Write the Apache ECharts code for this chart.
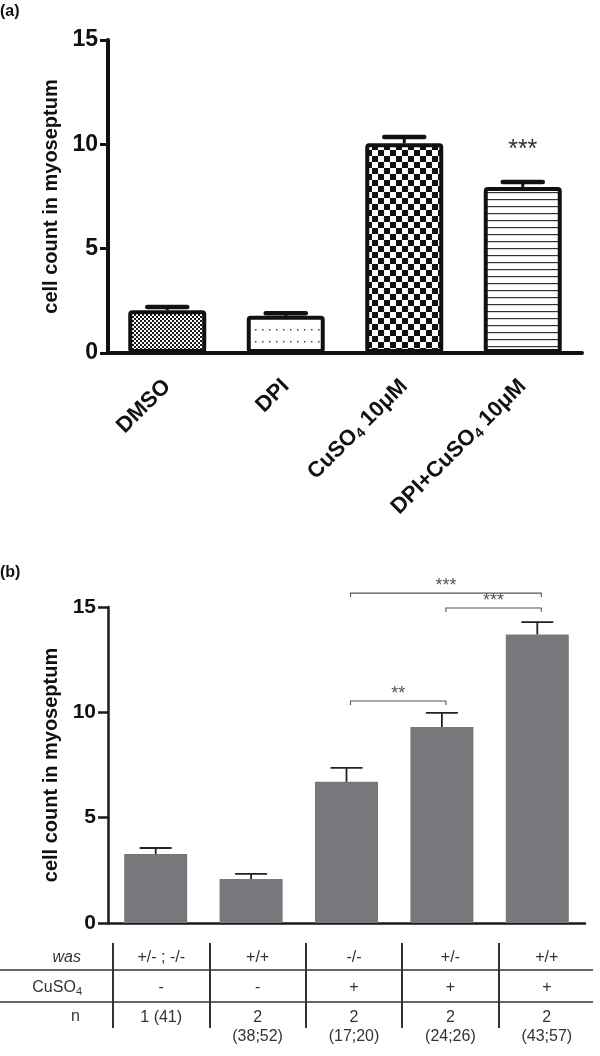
<!DOCTYPE html>
<html><head><meta charset="utf-8">
<script src="https://cdn.jsdelivr.net/npm/echarts@6/dist/echarts.min.js"></script>
<style>html,body{margin:0;padding:0;background:#fff}#c{width:600px;height:1056px}</style>
</head><body><div id="c"></div>
<script>
// ---------- data: panel (a) ----------
const catsA = ['DMSO', 'DPI', 'CuSO4 10μM', 'DPI+CuSO4 10μM'];
const valuesA = [2.05, 1.78, 10.05, 7.95];
const errTopA = [2.2, 1.9, 10.35, 8.2];
const sigA = ['', '', '', '***'];
const yTicksA = [0, 5, 10, 15];

// ---------- data: panel (b) ----------
const catsB = ['g1', 'g2', 'g3', 'g4', 'g5'];
const valuesB = [3.27, 2.09, 6.7, 9.3, 13.7];
const errTopB = [3.56, 2.33, 7.36, 9.97, 14.28];
const yTicksB = [0, 5, 10, 15];
const bracketFrom = [2, 3, 2];
const bracketTo = [4, 4, 3];
const bracketY = [15.66, 14.95, 10.54];
const bracketText = ['***', '***', '**'];

// ---------- table under panel (b) ----------
const tableRowLabels = ['was', 'CuSO4', 'n'];
const tableWas = ['+/- ; -/-', '+/+', '-/-', '+/-', '+/+'];
const tableCu = ['-', '-', '+', '+', '+'];
const tableN = ['1 (41)', '2\n(38;52)', '2\n(17;20)', '2\n(24;26)', '2\n(43;57)'];

const FONT = 'Liberation Sans';

function pat(w, h, draw) {
  const c = document.createElement('canvas'); c.width = w; c.height = h;
  const g = c.getContext('2d'); g.fillStyle = '#fff'; g.fillRect(0, 0, w, h); draw(g);
  return { image: c, repeat: 'repeat' };
}
const patterns = [
  pat(4, 4, g => { g.fillStyle = '#1a1a1a'; g.fillRect(0, 0, 2, 2); g.fillRect(2, 2, 2, 2); }),
  pat(7, 12, g => { g.fillStyle = '#444'; g.fillRect(3, 5, 1.5, 1.5); }),
  pat(12, 12, g => { g.fillStyle = '#111'; g.fillRect(0, 0, 6, 6); g.fillRect(6, 6, 6, 6); }),
  pat(4, 7, g => { g.fillStyle = '#333'; g.fillRect(0, 3, 4, 1.2); })
];

function subFmt(s, main, sub) {
  const parts = s.split('CuSO4');
  let out = '';
  parts.forEach((p, i) => {
    if (i > 0) out += '{' + main + '|CuSO}{' + sub + '|4}';
    if (p) out += '{' + main + '|' + p + '}';
  });
  return out;
}

const chart = echarts.init(document.getElementById('c'), null, { renderer: 'canvas' });

const option = {
  animation: false,
  backgroundColor: '#fff',
  textStyle: { fontFamily: FONT },
  grid: [
    { left: 108, right: 18, top: 40, bottom: 703, show: false },
    { left: 108, right: 15, top: 607, bottom: 133, show: false },
    { left: 113, right: 5, top: 943, bottom: 28, show: false }
  ],
  xAxis: [
    {
      gridIndex: 0, type: 'category', data: catsA,
      axisLine: { lineStyle: { color: '#111', width: 4 } },
      axisTick: { alignWithLabel: true, length: 9, lineStyle: { color: '#111', width: 3 } },
      axisLabel: {
        rotate: 45, margin: 30, interval: 0,
        formatter: v => subFmt(v, 'b', 's'),
        rich: {
          b: { fontFamily: FONT, fontWeight: 'bold', fontSize: 22, color: '#111', lineHeight: 24 },
          s: { fontFamily: FONT, fontWeight: 'bold', fontSize: 14, color: '#111', lineHeight: 14, verticalAlign: 'bottom' }
        }
      }
    },
    {
      gridIndex: 1, type: 'category', data: catsB,
      axisLine: { lineStyle: { color: '#1a1a1a', width: 2.5 } },
      axisTick: { show: false }, axisLabel: { show: false }
    },
    {
      gridIndex: 2, type: 'category', data: catsB,
      axisLine: { show: false }, axisTick: { show: false }, axisLabel: { show: false },
      splitLine: { show: true, showMinLine: true, showMaxLine: false, lineStyle: { color: '#333', width: 2 } }
    }
  ],
  yAxis: [
    {
      gridIndex: 0, type: 'value', min: yTicksA[0], max: yTicksA[yTicksA.length - 1], interval: yTicksA[1] - yTicksA[0],
      name: 'cell count in myoseptum', nameLocation: 'middle', nameGap: 41,
      nameTextStyle: { fontFamily: FONT, fontWeight: 'bold', fontSize: 20, color: '#111' },
      axisLine: { show: true, lineStyle: { color: '#111', width: 4 } },
      axisTick: { show: true, length: 8, lineStyle: { color: '#111', width: 3 } },
      axisLabel: { margin: 10, fontFamily: FONT, fontWeight: 'bold', fontSize: 23, color: '#111' },
      splitLine: { show: false }
    },
    {
      gridIndex: 1, type: 'value', min: yTicksB[0], max: yTicksB[yTicksB.length - 1], interval: yTicksB[1] - yTicksB[0],
      name: 'cell count in myoseptum', nameLocation: 'middle', nameGap: 45,
      nameTextStyle: { fontFamily: FONT, fontWeight: 'bold', fontSize: 20, color: '#111' },
      axisLine: { show: true, lineStyle: { color: '#1a1a1a', width: 2.5 } },
      axisTick: { show: true, length: 10, lineStyle: { color: '#1a1a1a', width: 2.5 } },
      axisLabel: { margin: 12, fontFamily: FONT, fontWeight: 'bold', fontSize: 21, color: '#111' },
      splitLine: { show: false }
    },
    { gridIndex: 2, type: 'value', min: 0, max: 1, show: false, splitLine: { show: false } }
  ],
  series: [
    {
      type: 'bar', xAxisIndex: 0, yAxisIndex: 0, barWidth: 78, z: 2,
      data: valuesA.map((v, i) => ({ value: v, itemStyle: { color: patterns[i] } })),
      itemStyle: { borderColor: '#111', borderWidth: 4, borderRadius: 2 }
    },
    {
      type: 'custom', xAxisIndex: 0, yAxisIndex: 0, z: 3,
      encode: { x: 0, y: [1, 2] },
      data: valuesA.map((v, i) => [i, v, errTopA[i]]),
      renderItem: (p, api) => {
        const b = api.coord([api.value(0), api.value(1)]);
        const t = api.coord([api.value(0), api.value(2)]);
        const ch = [
          { type: 'line', shape: { x1: b[0], y1: b[1], x2: t[0], y2: t[1] }, style: { stroke: '#111', lineWidth: 3 } },
          { type: 'line', shape: { x1: t[0] - 20, y1: t[1], x2: t[0] + 20, y2: t[1] }, style: { stroke: '#111', lineWidth: 4.5, lineCap: 'round' } }
        ];
        const s = sigA[p.dataIndex];
        if (s) ch.push({ type: 'text', style: { x: t[0], y: t[1] - 32, text: s, fontFamily: FONT, fontSize: 25, fill: '#333', align: 'center', verticalAlign: 'middle' } });
        return { type: 'group', children: ch };
      }
    },
    {
      type: 'bar', xAxisIndex: 1, yAxisIndex: 1, barWidth: 63, z: 2,
      data: valuesB, itemStyle: { color: '#77787c' }
    },
    {
      type: 'custom', xAxisIndex: 1, yAxisIndex: 1, z: 3,
      encode: { x: 0, y: [1, 2] },
      data: valuesB.map((v, i) => [i, v, errTopB[i]]),
      renderItem: (p, api) => {
        const b = api.coord([api.value(0), api.value(1)]);
        const t = api.coord([api.value(0), api.value(2)]);
        return { type: 'group', children: [
          { type: 'line', shape: { x1: b[0], y1: b[1], x2: t[0], y2: t[1] }, style: { stroke: '#222', lineWidth: 1.8 } },
          { type: 'line', shape: { x1: t[0] - 16, y1: t[1], x2: t[0] + 16, y2: t[1] }, style: { stroke: '#222', lineWidth: 1.8 } }
        ] };
      }
    },
    {
      type: 'custom', xAxisIndex: 1, yAxisIndex: 1, z: 3, clip: false,
      encode: { x: [0, 1], y: 2 },
      data: bracketFrom.map((f, i) => [f, bracketTo[i], bracketY[i]]),
      renderItem: (p, api) => {
        const a = api.coord([api.value(0), api.value(2)]);
        const b = api.coord([api.value(1), api.value(2)]);
        const x1 = a[0] + 4, x2 = b[0] + 4, y = a[1];
        return { type: 'group', children: [
          { type: 'polyline', shape: { points: [[x1, y + 4], [x1, y], [x2, y], [x2, y + 4]] }, style: { stroke: '#555', lineWidth: 1.1, fill: null } },
          { type: 'text', style: { x: (x1 + x2) / 2, y: y - 7, text: bracketText[p.dataIndex], fontFamily: FONT, fontSize: 18, fill: '#555', align: 'center', verticalAlign: 'middle' } }
        ] };
      }
    },
    {
      type: 'custom', xAxisIndex: 2, yAxisIndex: 2, z: 3, clip: false,
      encode: { x: 0, y: 1 },
      data: catsB.map((c, i) => [i, 0.5]),
      renderItem: (p, api) => {
        const x = api.coord([api.value(0), 0.5])[0];
        const top = p.coordSys.y;
        const i = p.dataIndex;
        const st = { fontFamily: FONT, fontSize: 16, fill: '#333', align: 'center' };
        return { type: 'group', children: [
          { type: 'text', style: Object.assign({ x: x, y: top + 15, text: tableWas[i], verticalAlign: 'middle' }, st) },
          { type: 'text', style: Object.assign({ x: x, y: top + 45, text: tableCu[i], verticalAlign: 'middle' }, st) },
          { type: 'text', style: Object.assign({ x: x, y: top + 65, text: tableN[i], verticalAlign: 'top', lineHeight: 19 }, st) }
        ] };
      }
    }
  ],
  graphic: [
    { type: 'text', left: 0, top: 4, style: { text: '(a)', fontFamily: FONT, fontWeight: 'bold', fontSize: 16, fill: '#111' } },
    { type: 'text', left: 0, top: 565, style: { text: '(b)', fontFamily: FONT, fontWeight: 'bold', fontSize: 16, fill: '#111' } },
    { type: 'line', shape: { x1: 0, y1: 970, x2: 593, y2: 970 }, style: { stroke: '#333', lineWidth: 1.6 } },
    { type: 'line', shape: { x1: 0, y1: 1002, x2: 593, y2: 1002 }, style: { stroke: '#333', lineWidth: 1.6 } },
    { type: 'text', x: 81, y: 958, style: { text: tableRowLabels[0], fontFamily: FONT, fontStyle: 'italic', fontSize: 16, fill: '#333', align: 'right', verticalAlign: 'middle' } },
    { type: 'text', x: 82, y: 988, style: {
        text: subFmt(tableRowLabels[1], 'm', 's'), align: 'right', verticalAlign: 'middle',
        rich: { m: { fontFamily: FONT, fontSize: 16, fill: '#333', lineHeight: 18 }, s: { fontFamily: FONT, fontSize: 11, fill: '#333', lineHeight: 11, verticalAlign: 'bottom' } } } },
    { type: 'text', x: 80, y: 1017, style: { text: tableRowLabels[2], fontFamily: FONT, fontSize: 16, fill: '#333', align: 'right', verticalAlign: 'middle' } }
  ]
};
chart.setOption(option);
</script></body></html>
